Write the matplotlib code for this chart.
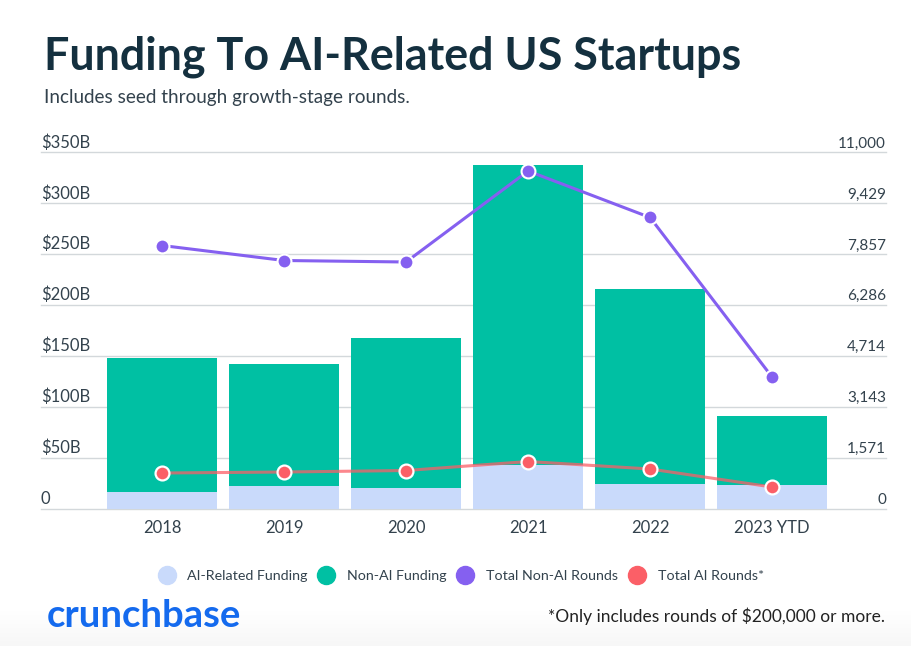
import numpy as np
import matplotlib
matplotlib.use("Agg")
import matplotlib.pyplot as plt
from matplotlib.lines import Line2D

plt.rcParams['font.family'] = ['Lato', 'DejaVu Sans']

years = ["2018", "2019", "2020", "2021", "2022", "2023 YTD"]
ai_funding = [16, 22, 20, 43, 24, 23]
non_ai_funding = [132, 120, 147.5, 294, 191.5, 68]
non_ai_rounds = [8115, 7652, 7606, 10414, 8980, 4057]
ai_rounds = [1095, 1126, 1172, 1450, 1219, 663]
left_ticks = [0, 50, 100, 150, 200, 250, 300, 350]
left_labels = ["0", "$50B", "$100B", "$150B", "$200B", "$250B", "$300B", "$350B"]
right_ticks = [0, 1571, 3143, 4714, 6286, 7857, 9429, 11000]
right_labels = ["0", "1,571", "3,143", "4,714", "6,286", "7,857", "9,429", "11,000"]

W, H = 912, 646
text_color = "#33424d"
title_color = "#14303f"
c_ai = "#c9dafb"
c_non_ai = "#00c0a3"
c_purple = "#8560f0"
c_red = "#fb5f67"

fig = plt.figure(figsize=(W / 100, H / 100), dpi=100)

# soft grey fade along the bottom edge
bg = fig.add_axes([0, 0, 1, 40 / H])
bg.imshow(np.linspace(1, 0.965, 40).reshape(-1, 1), cmap="gray", vmin=0, vmax=1, aspect="auto")
bg.axis("off")

ax = fig.add_axes([41 / W, (H - 508.5) / H, 845 / W, 356.5 / H])
x = np.arange(len(years))
ax.bar(x, ai_funding, width=0.9, color=c_ai, zorder=2)
ax.bar(x, non_ai_funding, width=0.9, bottom=ai_funding, color=c_non_ai, zorder=2)
ax.set_xlim(-0.992, 5.934)
ax.set_ylim(0, 350)
ax.set_yticks(left_ticks)
ax.set_yticklabels([])
ax.grid(axis="y", color="#d3d8db", lw=1, zorder=0, clip_on=False)
ax.set_axisbelow(True)
ax.tick_params(length=0)
ax.set_xticks(x)
ax.set_xticklabels(years, fontsize=12, color=text_color)
ax.tick_params(axis="x", pad=8)
for s in ["top", "left", "right", "bottom"]:
    ax.spines[s].set_visible(False)

ax2 = ax.twinx()
ax2.set_ylim(0, 11000)
ax2.set_yticks([])
for s in ["top", "left", "right", "bottom"]:
    ax2.spines[s].set_visible(False)
ax2.plot(x, non_ai_rounds, color=c_purple, lw=2.2, marker="o", ms=10,
         mfc=c_purple, mec="white", mew=1.5, zorder=4)
ax2.plot(x, ai_rounds, color=c_red, lw=2.2, alpha=0.75, zorder=4)
ax2.plot(x, ai_rounds, ls="none", marker="o", ms=10, mfc=c_red, mec="white", mew=1.6, zorder=5)

# axis labels sit on top of the gridlines
for t, lab in zip(left_ticks, left_labels):
    ax.annotate(lab, (0, t), xycoords=("axes fraction", "data"), xytext=(0, 1),
                textcoords="offset points", ha="left", va="bottom", fontsize=12, color=text_color)
for t, lab in zip(right_ticks, right_labels):
    ax2.annotate(lab, (1, t), xycoords=("axes fraction", "data"), xytext=(0, 1),
                 textcoords="offset points", ha="right", va="bottom", fontsize=11, color=text_color)

fig.text(44 / W, 1 - 70 / H, "Funding To AI-Related US Startups", fontsize=32.3, fontweight="bold",
         color=title_color, ha="left", va="baseline")
fig.text(44 / W, 1 - 103 / H, "Includes seed through growth-stage rounds.", fontsize=13.6,
         color=text_color, ha="left", va="baseline")

handles = [Line2D([], [], ls="none", marker="o", ms=13, color=c) for c in [c_ai, c_non_ai, c_purple, c_red]]
fig.legend(handles, ["AI-Related Funding", "Non-AI Funding", "Total Non-AI Rounds", "Total AI Rounds*"],
           ncol=4, loc="center", bbox_to_anchor=(458 / W, 1 - 576 / H), frameon=False, fontsize=10.3,
           labelcolor=text_color, handletextpad=0.45, columnspacing=0.3)

fig.text(47 / W, 1 - 627 / H, "crunchbase", fontsize=27.5, fontweight="bold", color="#146aee",
         ha="left", va="baseline")
fig.text(885 / W, 1 - 622 / H, "*Only includes rounds of $200,000 or more.", fontsize=12.5,
         color="#222222", ha="right", va="baseline")

fig.savefig("out.png", dpi=100)
